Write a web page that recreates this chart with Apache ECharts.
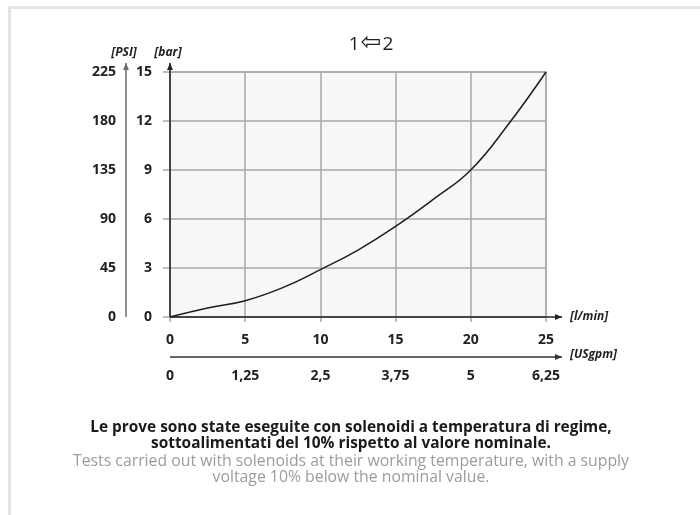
<!DOCTYPE html>
<html>
<head>
<meta charset="utf-8">
<script src="https://cdn.jsdelivr.net/npm/echarts@6/dist/echarts.min.js"></script>
<style>
    html, body { margin: 0; padding: 0; background: #fff; }
    #frame {
        position: absolute; left: 8px; top: 6px; width: 700px; height: 520px;
        border-top: 3px solid #e4e4e4; border-left: 3px solid #e4e4e4;
    }
    #chart { position: absolute; left: 0; top: 0; width: 700px; height: 515px; }
</style>
</head>
<body>
<div id="frame"></div>
<div id="chart"></div>
<script>
// portata [l/min] -> pressione [bar]
const flowLpm = [0, 2.5, 5, 7.5, 10, 12.5, 15, 17.5, 20, 22.5, 25]
const pressureBar = [0, 0.55, 1.0, 1.8, 2.9, 4.1, 5.55, 7.2, 9.0, 11.8, 15]

// scale degli assi
const barRange = [0, 15, 3]
const psiRange = [0, 225, 45]
const lpmRange = [0, 25, 5]
const usgpmRange = [0, 6.25, 1.25]

const titleText = '1{arrow|\u21E6}2'
const noteIt = 'Le prove sono state eseguite con solenoidi a temperatura di regime,\nsottoalimentati del 10% rispetto al valore nominale.'
const noteEn = 'Tests carried out with solenoids at their working temperature, with a supply\nvoltage 10% below the nominal value.'

const FONT = '"Open Sans", "Noto Sans", sans-serif'
const labelStyle = {fontFamily: FONT, fontWeight: 'bold', fontSize: 14, color: '#222'}
const NAME_FONT = 'italic bold 12px ' + FONT

const myChart = echarts.init(document.getElementById('chart'))

const option = {
    animation: false,
    title: {
        text: titleText,
        left: 366,
        top: 26,
        textAlign: 'center',
        textStyle: {
            fontFamily: FONT, fontWeight: 'normal', fontSize: 19, color: '#222',
            rich: {
                arrow: {fontFamily: '"DejaVu Sans", sans-serif', fontSize: 25, color: '#222', padding: [0, 1, 2, 1]}
            }
        }
    },
    grid: {
        left: 170, top: 72, width: 376, height: 245,
        show: true,
        backgroundColor: '#f6f7f7',
        borderColor: '#a9a9a9',
        borderWidth: 1.5
    },
    xAxis: [
        {
            type: 'value',
            position: 'bottom',
            min: lpmRange[0], max: lpmRange[1], interval: lpmRange[2],
            axisLine: {show: false},
            axisTick: {show: true, length: 5, lineStyle: {color: '#a9a9a9', width: 1.5}},
            axisLabel: Object.assign({margin: 16}, labelStyle),
            splitLine: {show: true, lineStyle: {color: '#a9a9a9', width: 1.5}}
        },
        {
            type: 'value',
            position: 'bottom',
            offset: 40,
            min: usgpmRange[0], max: usgpmRange[1], interval: usgpmRange[2],
            axisLine: {show: false},
            axisTick: {show: false},
            axisLabel: Object.assign({
                margin: 12,
                formatter: v => String(v).replace('.', ',')
            }, labelStyle),
            splitLine: {show: false}
        }
    ],
    yAxis: [
        {
            type: 'value',
            position: 'left',
            min: barRange[0], max: barRange[1], interval: barRange[2],
            axisLine: {show: false},
            axisTick: {show: true, length: 7, lineStyle: {color: '#a9a9a9', width: 1.5}},
            axisLabel: Object.assign({margin: 18}, labelStyle),
            splitLine: {show: true, lineStyle: {color: '#a9a9a9', width: 1.5}}
        },
        {
            type: 'value',
            position: 'left',
            offset: 44,
            min: psiRange[0], max: psiRange[1], interval: psiRange[2],
            axisLine: {show: false},
            axisTick: {show: false},
            axisLabel: Object.assign({margin: 10}, labelStyle),
            splitLine: {show: false}
        }
    ],
    series: [{
        type: 'line',
        xAxisIndex: 0,
        yAxisIndex: 0,
        data: flowLpm.map((q, i) => [q, pressureBar[i]]),
        smooth: 0.45,
        symbol: 'none',
        lineStyle: {color: '#1e1e1e', width: 1.5}
    }]
}
myChart.setOption(option)

// assi con freccia, disegnati sopra la griglia
function arrowLine(x1, y1, x2, y2, color) {
    const up = x1 === x2
    const head = up
        ? [[x2, y2], [x2 - 3, y2 + 7], [x2 + 3, y2 + 7]]
        : [[x2, y2], [x2 - 7, y2 - 3], [x2 - 7, y2 + 3]]
    return [
        {type: 'line', z: 100, shape: {x1, y1, x2, y2}, style: {stroke: color, lineWidth: 1.5}},
        {type: 'polygon', z: 100, shape: {points: head}, style: {fill: color}}
    ]
}

function axisName(text, x, y, align) {
    return {
        type: 'text', z: 100, x, y,
        style: {text, align, verticalAlign: 'middle', font: NAME_FONT, fill: '#222'}
    }
}

const origin = myChart.convertToPixel({gridIndex: 0}, [0, 0])
const corner = myChart.convertToPixel({gridIndex: 0}, [lpmRange[1], barRange[1]])
const topY = corner[1] - 9
const rightX = corner[0] + 16
const midX = 351

myChart.setOption({
    graphic: [].concat(
        arrowLine(origin[0], origin[1], origin[0], topY, '#222'),
        arrowLine(origin[0] - 44, origin[1], origin[0] - 44, topY, '#6a6a6a'),
        arrowLine(origin[0], origin[1], rightX, origin[1], '#222'),
        arrowLine(origin[0], origin[1] + 40, rightX, origin[1] + 40, '#333'),
        [
            axisName('[bar]', origin[0] - 2, topY - 10, 'center'),
            axisName('[PSI]', origin[0] - 46, topY - 10, 'center'),
            axisName('[l/min]', rightX + 8, origin[1], 'left'),
            axisName('[USgpm]', rightX + 8, origin[1] + 38, 'left'),
            {
                type: 'text', x: midX, y: 420,
                style: {
                    text: noteIt, align: 'center', verticalAlign: 'top', lineHeight: 16,
                    font: 'bold 15.4px ' + FONT, fill: '#1a1a1a'
                }
            },
            {
                type: 'text', x: midX, y: 453,
                style: {
                    text: noteEn, align: 'center', verticalAlign: 'top', lineHeight: 16,
                    font: '15.8px ' + FONT, fill: '#9c9c9c'
                }
            }
        ]
    )
})

window.addEventListener('resize', function () {
    myChart.resize()
})
</script>
</body>
</html>
